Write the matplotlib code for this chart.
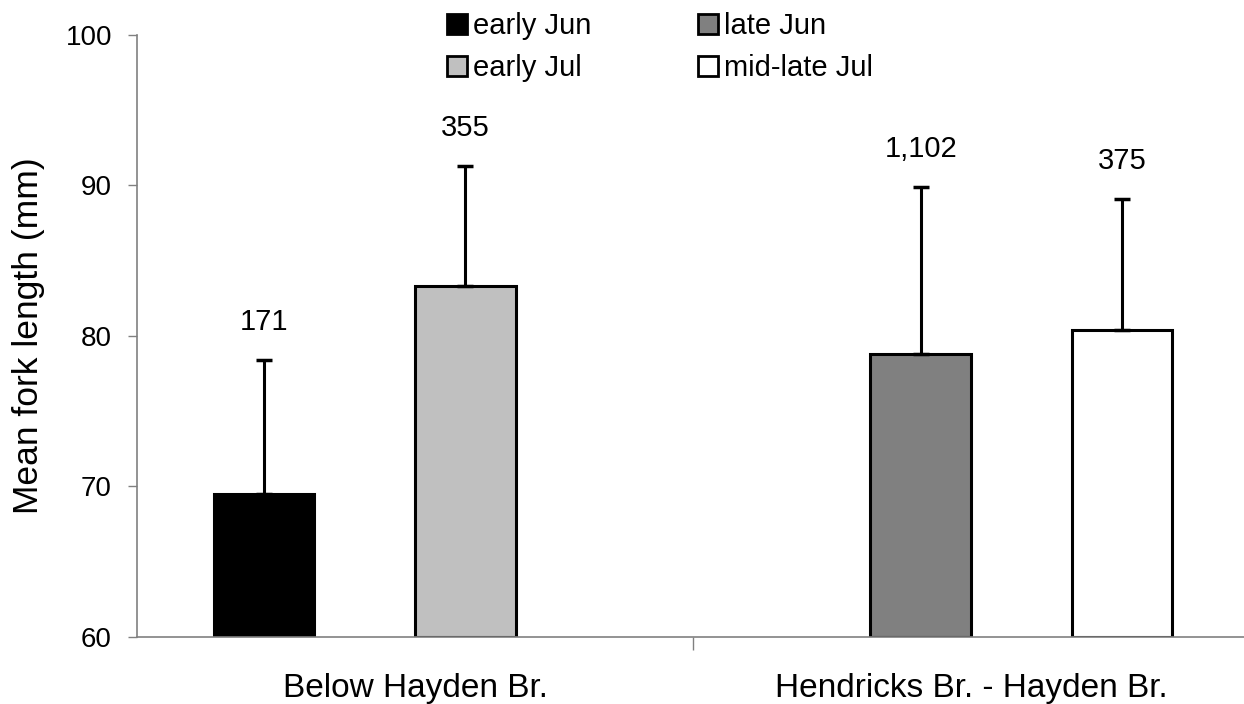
import numpy as np
import matplotlib
matplotlib.use("Agg")
import matplotlib.pyplot as plt
from matplotlib.patches import Patch

plt.rcParams['font.family'] = ['Liberation Sans', 'DejaVu Sans']

# data
groups = ['Below Hayden Br.', 'Hendricks Br. - Hayden Br.']
periods = ['early Jun', 'late Jun', 'early Jul', 'mid-late Jul']
colors = ['#000000', '#808080', '#C0C0C0', '#FFFFFF']

means = {
    'early Jun':    [69.5, np.nan],
    'late Jun':     [np.nan, 78.8],
    'early Jul':    [83.3, np.nan],
    'mid-late Jul': [np.nan, 80.4],
}
sd_upper = {
    'early Jun':    [8.9, np.nan],
    'late Jun':     [np.nan, 11.1],
    'early Jul':    [8.0, np.nan],
    'mid-late Jul': [np.nan, 8.7],
}
n_labels = {
    'early Jun':    ['171', ''],
    'late Jun':     ['', '1,102'],
    'early Jul':    ['355', ''],
    'mid-late Jul': ['', '375'],
}

fig = plt.figure(figsize=(12.44, 7.04), dpi=100)
ax = fig.add_axes([137/1244, 1-636.7/704, 1-137/1244, (636.7-35)/704])

bw = 0.181
group_x = np.arange(len(groups)) + 0.5
for i, p in enumerate(periods):
    offs = (i - 1.5) * bw
    for g in range(len(groups)):
        m = means[p][g]
        if np.isnan(m):
            continue
        x = group_x[g] + offs
        ax.bar(x, m - 60, bw, bottom=60, color=colors[i], edgecolor='black', linewidth=2.2, zorder=2)
        err = sd_upper[p][g]
        ax.errorbar(x, m, yerr=[[0], [err]], fmt='none', ecolor='black', elinewidth=2.2,
                    capsize=5.5, capthick=2.5, zorder=3)
        ax.annotate(n_labels[p][g], (x, m + err), xytext=(0, 17.5), textcoords='offset points',
                    ha='center', va='bottom', fontsize=21)

ax.set_ylim(60, 100)
ax.set_yticks([60, 70, 80, 90, 100])
ax.set_xlim(0, (1244-137)/556)
ax.set_xticks([1.0])
ax.set_xticklabels([''])
ax.set_xticks(group_x, minor=True)
ax.set_xticklabels(groups, minor=True, fontsize=24)
ax.tick_params(axis='x', which='major', direction='out', length=9, color='#808080', width=1)
ax.tick_params(axis='x', which='minor', length=0, pad=26)
ax.tick_params(axis='y', direction='out', length=6.5, color='#808080', width=1, pad=11.5, labelsize=20)
for s in ['top', 'right']:
    ax.spines[s].set_visible(False)
for s in ['left', 'bottom']:
    ax.spines[s].set_color('#808080')
    ax.spines[s].set_linewidth(1.2)

ax.set_ylabel('Mean fork length (mm)', fontsize=25.5)
ax.yaxis.set_label_coords(-0.083, 0.5)

order = ['early Jun', 'early Jul', 'late Jun', 'mid-late Jul']
handles = [Patch(facecolor=colors[periods.index(p)], edgecolor='black', linewidth=2) for p in order]
fig.legend(handles, order, loc='upper left', bbox_to_anchor=(447/1244, 1-12/704), ncol=2,
           frameon=False, fontsize=21, handlelength=0.7, handleheight=0.7, handletextpad=0.2,
           columnspacing=3.64, labelspacing=0.49, borderpad=0, borderaxespad=0)

fig.savefig('out.png', dpi=100)
